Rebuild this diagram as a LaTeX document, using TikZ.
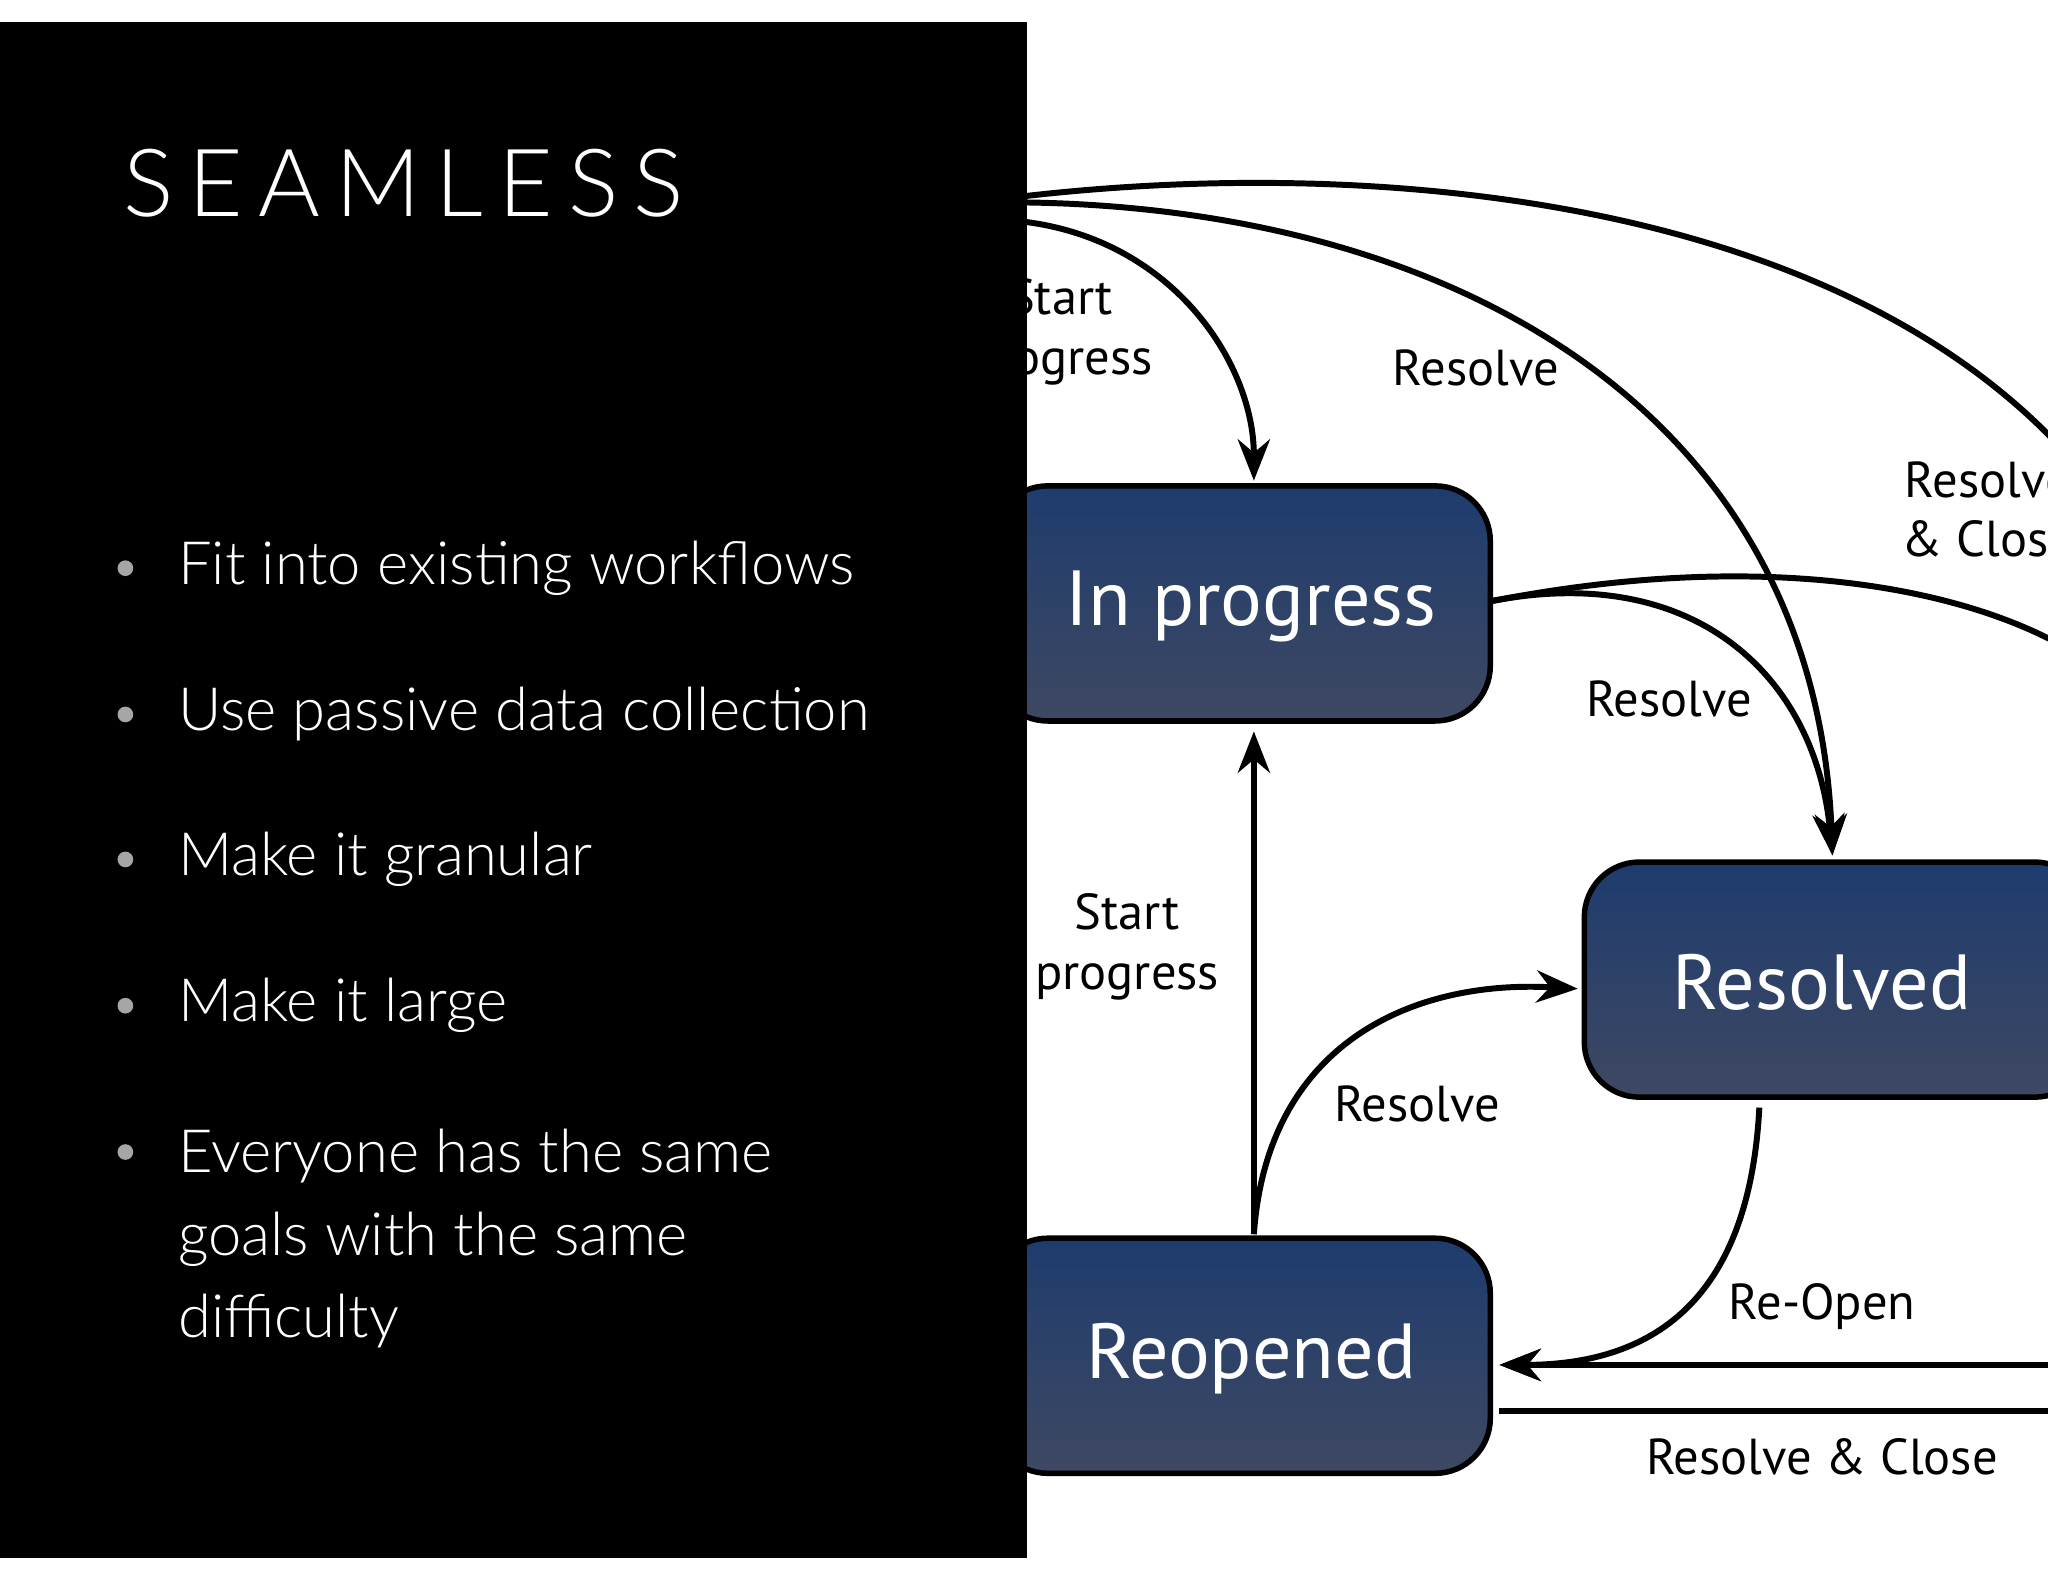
\documentclass[tikz,border=0pt]{standalone}
\usepackage{fontspec}
\setmainfont{Lato}
\newfontfamily\titlef[LetterSpace=16]{Lato Light}
\newfontfamily\bodyf{Lato Light}
\newfontfamily\diagf{PT Sans}
\usetikzlibrary{arrows.meta}
\begin{document}
\begin{tikzpicture}[x=0.01cm,y=-0.01cm,
  box/.style={rounded corners=12,draw=black,line width=1.2pt,top color={rgb,255:red,30;green,60;blue,110},bottom color={rgb,255:red,62;green,72;blue,98}},
  boxt/.style={text=white,font=\diagf\fontsize{17}{20}\selectfont},
  con/.style={line width=1.3pt,-{Stealth[length=9pt,width=7pt]}},
  lab/.style={font=\diagf\fontsize{11}{13}\selectfont,align=center}]
\useasboundingbox (0,0) rectangle (1568,1211);
\fill[white] (0,0) rectangle (1568,1211);
\begin{scope}
\clip (0,0) rectangle (1568,1211);
\draw[box] (760,372) rectangle (1141,552);
\draw[box] (1213,660) rectangle (1600,840);
\draw[box] (760,948) rectangle (1141,1128);
\node[boxt] (ip) at (958,464) {In progress};
\node[boxt] (rs) at (1395,752) {Resolved};
\node[boxt] (ro) at (958,1040) {Reopened};
\coordinate (a1) at (786,170);
\coordinate (a2) at (786,155);
\coordinate (a3) at (786,150);
\coordinate (e3) at (1580,345);
\coordinate (e4) at (1580,495);
\coordinate (e5) at (1580,1045);
\coordinate (e6) at (1580,1080);
\draw[con] (a1) .. controls (900,185) and (960,280) .. (960,368);
\draw[con] (a2) .. controls (1120,160) and (1390,320) .. (1403,655);
\draw[line width=1.3pt] (a3) .. controls (1050,120) and (1400,150) .. (e3);
\draw[con] (1143,460) .. controls (1300,430) and (1390,520) .. (1403,655);
\draw[line width=1.3pt] (1143,460) .. controls (1350,420) and (1500,450) .. (e4);
\draw[con] (960,945) -- (960,560);
\draw[con] (960,945) .. controls (970,800) and (1080,750) .. (1208,757);
\draw[con] (1347,848) .. controls (1340,980) and (1280,1045) .. (1148,1045);
\draw[con] (e5) -- (1148,1045);
\draw[line width=1.3pt] (1148,1080) -- (e6);
\node[lab] at (812,254) {Start\\progress};
\node[lab] at (1130,282) {Resolve};
\node[lab] at (1522,390) {Resolve\\\& Close};
\node[lab] at (1278,535) {Resolve};
\node[lab] at (863,725) {Start\\progress};
\node[lab] at (1085,845) {Resolve};
\node[lab] at (1395,1000) {Re-Open};
\node[lab] at (1395,1115) {Resolve \& Close};
\end{scope}
\fill[black] (0,17) rectangle (786,1193);
\node[anchor=west,text=white,font=\titlef\fontsize{20.5}{26}\selectfont] (t) at (82,140) {SEAMLESS};
\begin{scope}[every node/.style={anchor=west,text=white,font=\bodyf\fontsize{13}{18}\selectfont,align=left}]
\foreach \y/\t [count=\i] in {435/Fit into existing workflows,547/Use passive data collection,658/Make it granular,770/Make it large}{
  \fill[gray!70] (96,\y) circle (6);
  \node (b\i) at (124,\y) {\t};}
\fill[gray!70] (96,882) circle (6);
\node[anchor=north west] (b5) at (124,852) {Everyone has the same\\goals with the same\\difficulty};
\end{scope}
\end{tikzpicture}
\end{document}
